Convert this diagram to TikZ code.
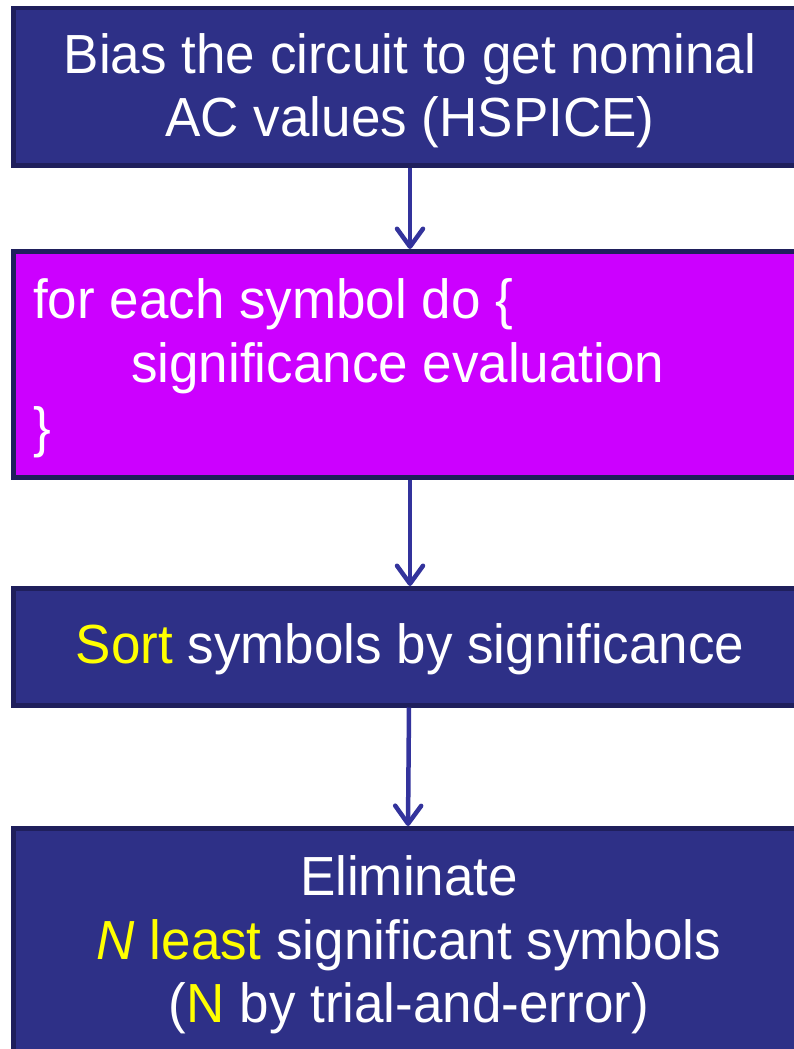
\documentclass[tikz,border=0pt]{standalone}
\usepackage{fontspec}
\setmainfont{Liberation Sans}
\usetikzlibrary{arrows.meta}
\definecolor{navy}{RGB}{46,48,135}
\definecolor{navyborder}{RGB}{31,31,92}
\definecolor{magentabox}{RGB}{204,0,255}
\definecolor{arrowblue}{RGB}{51,51,156}
\definecolor{hilite}{RGB}{255,255,0}
\tikzset{
  flowbox/.style={draw=navyborder, line width=4.5pt, fill=navy, rectangle, inner sep=0pt, anchor=north west, minimum width=800pt},
  loopbox/.style={flowbox, fill=magentabox},
  boxtext/.style={text=white, font=\fontsize{53}{63}\selectfont, inner sep=0pt, yscale=1.04},
  flowarrow/.style={draw=arrowblue, line width=4.5pt, -{Straight Barb[length=18pt,width=26pt,line width=4.5pt,line cap=round,line join=round]}},
}
\begin{document}
\begin{tikzpicture}[x=1pt,y=-1pt]
\useasboundingbox (0,0) rectangle (794,1049);
\node[flowbox, minimum height=157pt] (b1) at (11,6) {};
\node[loopbox, minimum height=226pt] (b2) at (11,249) {};
\node[flowbox, minimum height=117pt] (b3) at (11,586) {};
\node[flowbox, minimum height=260pt] (b4) at (11,826) {};

\node[boxtext, anchor=base] (t1a) at (410,74) {Bias the circuit to get nominal};
\node[boxtext, anchor=base] (t1b) at (410,136) {AC values (HSPICE)};
\node[boxtext, anchor=base west] (t2a) at (33,318) {for each symbol do \{};
\node[boxtext, anchor=base west] (t2b) at (131,382) {significance evaluation};
\node[boxtext, anchor=base west] (t2c) at (33,446) {\}};
\node[boxtext, anchor=base] (t3) at (410,663) {\textcolor{hilite}{Sort} symbols by significance};
\node[boxtext, anchor=base] (t4a) at (409,895) {Eliminate};
\node[boxtext, anchor=base] (t4b) at (409,959) {\textcolor{hilite}{\textit{N} least} significant symbols};
\node[boxtext, anchor=base] (t4c) at (409,1022) {(\textcolor{hilite}{N} by trial-and-error)};

\draw[flowarrow] (b1.south -| 410,0) -- (b2.north -| 410,0);
\draw[flowarrow] (b2.south -| 410,0) -- (b3.north -| 410,0);
\draw[flowarrow] (b3.south -| 409,0) -- (b4.north -| 408,0);
\end{tikzpicture}
\end{document}
